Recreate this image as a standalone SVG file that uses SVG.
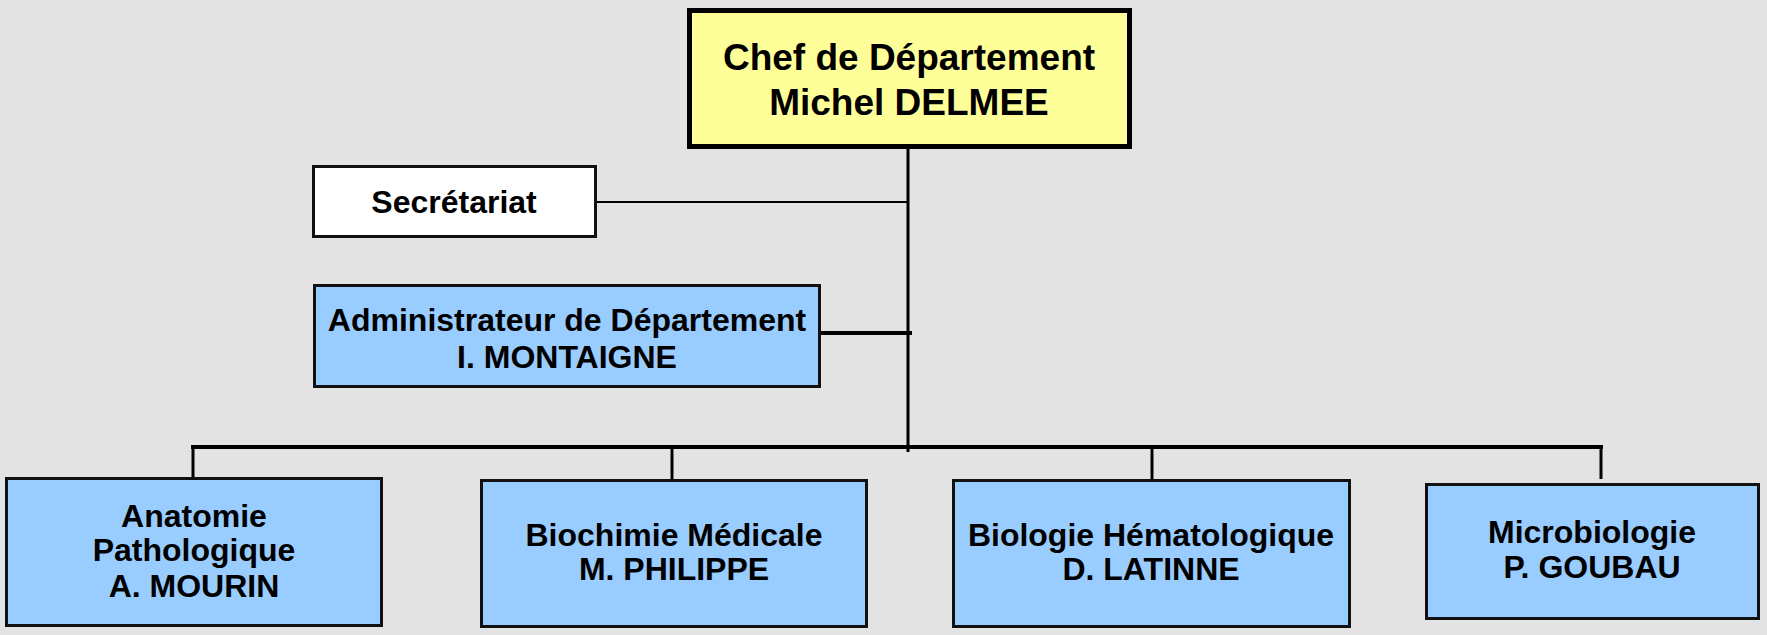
<svg xmlns="http://www.w3.org/2000/svg" width="1767" height="635" viewBox="0 0 1767 635">
<style>
.bg{fill:#e3e3e3}
.box{stroke:#111;stroke-width:3}
.blue{fill:#99ccff}
.white{fill:#ffffff}
.yellow{fill:#ffff99;stroke:#000;stroke-width:5}
text{font-family:"Liberation Sans",Arial,sans-serif;font-weight:bold;fill:#000;text-anchor:middle}
.t{font-size:32px}
.tt{font-size:37px}
.c{stroke:#000;fill:none}
</style>
<rect class="bg" x="0" y="0" width="1767" height="635"/>
<g id="connectors">
<line class="c" x1="597" y1="202" x2="908" y2="202" stroke-width="2"/>
<line class="c" x1="908" y1="148" x2="908" y2="452" stroke-width="3"/>
<line class="c" x1="821" y1="333" x2="912" y2="333" stroke-width="4"/>
<line class="c" x1="191" y1="447" x2="1603" y2="447" stroke-width="4"/>
<line class="c" x1="193" y1="447" x2="193" y2="478" stroke-width="3"/>
<line class="c" x1="672" y1="447" x2="672" y2="479" stroke-width="3"/>
<line class="c" x1="1152" y1="447" x2="1152" y2="479" stroke-width="3"/>
<line class="c" x1="1601" y1="447" x2="1601" y2="479" stroke-width="3"/>
</g>
<g id="chef">
<rect class="yellow" x="689.5" y="10.5" width="440" height="136"/>
<text class="tt" x="909" y="70">Chef de Département</text>
<text class="tt" x="909" y="115">Michel DELMEE</text>
</g>
<g id="secretariat">
<rect class="box white" x="313.5" y="166.5" width="282" height="70"/>
<text class="t" x="454" y="213">Secrétariat</text>
</g>
<g id="administrateur">
<rect class="box blue" x="314.5" y="285.5" width="505" height="101"/>
<text class="t" x="567" y="331">Administrateur de Département</text>
<text class="t" x="567" y="368">I. MONTAIGNE</text>
</g>
<g id="anatomie">
<rect class="box blue" x="6.5" y="478.5" width="375" height="147"/>
<text class="t" x="194" y="527">Anatomie</text>
<text class="t" x="194" y="561">Pathologique</text>
<text class="t" x="194" y="597">A. MOURIN</text>
</g>
<g id="biochimie">
<rect class="box blue" x="481.5" y="480.5" width="385" height="146"/>
<text class="t" x="674" y="546">Biochimie Médicale</text>
<text class="t" x="674" y="580">M. PHILIPPE</text>
</g>
<g id="biologie">
<rect class="box blue" x="953.5" y="480.5" width="396" height="146"/>
<text class="t" x="1151" y="546">Biologie Hématologique</text>
<text class="t" x="1151" y="580">D. LATINNE</text>
</g>
<g id="microbiologie">
<rect class="box blue" x="1426.5" y="484.5" width="332" height="134"/>
<text class="t" x="1592" y="543">Microbiologie</text>
<text class="t" x="1592" y="578">P. GOUBAU</text>
</g>
</svg>
